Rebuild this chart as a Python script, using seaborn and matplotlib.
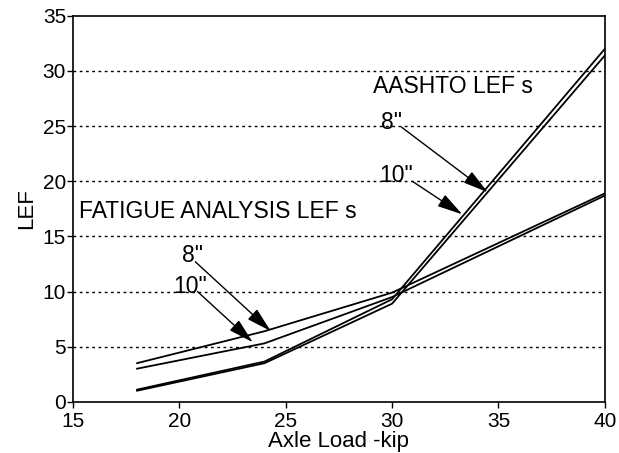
import matplotlib
matplotlib.use("Agg")
import matplotlib.pyplot as plt
import seaborn as sns
import pandas as pd

# Axle loads (kip) and load equivalency factors for each slab thickness
axle_load = [18, 24, 30, 40]
fatigue_8in = [3.5, 6.4, 9.9, 18.9]
fatigue_10in = [3.0, 5.3, 9.5, 18.7]
aashto_8in = [1.1, 3.65, 9.3, 32.0]
aashto_10in = [1.0, 3.5, 8.9, 31.4]

series_names = ["Fatigue 8\"", "Fatigue 10\"", "AASHTO 8\"", "AASHTO 10\""]
series_values = [fatigue_8in, fatigue_10in, aashto_8in, aashto_10in]

x_ticks = [15, 20, 25, 30, 35, 40]
y_ticks = [0, 5, 10, 15, 20, 25, 30, 35]

frames = []
for name, vals in zip(series_names, series_values):
    frames.append(pd.DataFrame({"load": axle_load, "lef": vals, "series": name}))
df = pd.concat(frames, ignore_index=True)

sns.set_theme(style="white")
plt.rcParams["font.family"] = ["Liberation Sans", "DejaVu Sans"]

fig = plt.figure(figsize=(6.19, 4.53), dpi=100)
ax = fig.add_axes([0.118, 0.113, 0.859, 0.852])

sns.lineplot(data=df, x="load", y="lef", hue="series", units="series",
             estimator=None, palette=["black"] * 4, linewidth=1.3,
             legend=False, ax=ax, sort=False)

ax.set_xlim(15, 40)
ax.set_ylim(0, 35)
ax.set_xticks(x_ticks)
ax.set_yticks(y_ticks)
ax.tick_params(axis="both", direction="out", length=4, width=1,
               labelsize=15, color="black", labelcolor="black", pad=1,
               bottom=True, left=True)
ax.tick_params(axis="x", pad=3)

# dotted horizontal guides
for yv in y_ticks[1:-1]:
    ax.axhline(yv, color="black", lw=1.0, ls=(0, (2, 2.5)), zorder=0)

for side in ax.spines.values():
    side.set_color("black")
    side.set_linewidth(1.2)

ax.set_xlabel("Axle Load -kip", fontsize=16, color="black", labelpad=0)
ax.set_ylabel("LEF", fontsize=16, color="black", labelpad=4)

text_kw = dict(fontsize=16.5, color="black")
arrow_kw = dict(arrowstyle="-|>,head_length=1.3,head_width=0.35",
                color="black", lw=1.0, mutation_scale=12,
                shrinkA=0, shrinkB=0)

ax.text(29.1, 28.6, "AASHTO LEF s", va="center", ha="left", **text_kw)
ax.text(29.95, 25.3, "8\"", va="center", ha="center", **text_kw)
ax.text(30.2, 20.5, "10\"", va="center", ha="center", **text_kw)
ax.annotate("", xy=(34.5, 19.0), xytext=(30.45, 24.9), arrowprops=arrow_kw)
ax.annotate("", xy=(33.3, 17.0), xytext=(30.95, 20.0), arrowprops=arrow_kw)

ax.text(15.3, 17.3, "FATIGUE ANALYSIS LEF s", va="center", ha="left", **text_kw)
ax.text(20.6, 13.3, "8\"", va="center", ha="center", **text_kw)
ax.text(20.5, 10.5, "10\"", va="center", ha="center", **text_kw)
ax.annotate("", xy=(24.3, 6.4), xytext=(20.75, 12.7), arrowprops=arrow_kw)
ax.annotate("", xy=(23.45, 5.4), xytext=(20.85, 10.0), arrowprops=arrow_kw)

fig.savefig("out.png", dpi=100)
